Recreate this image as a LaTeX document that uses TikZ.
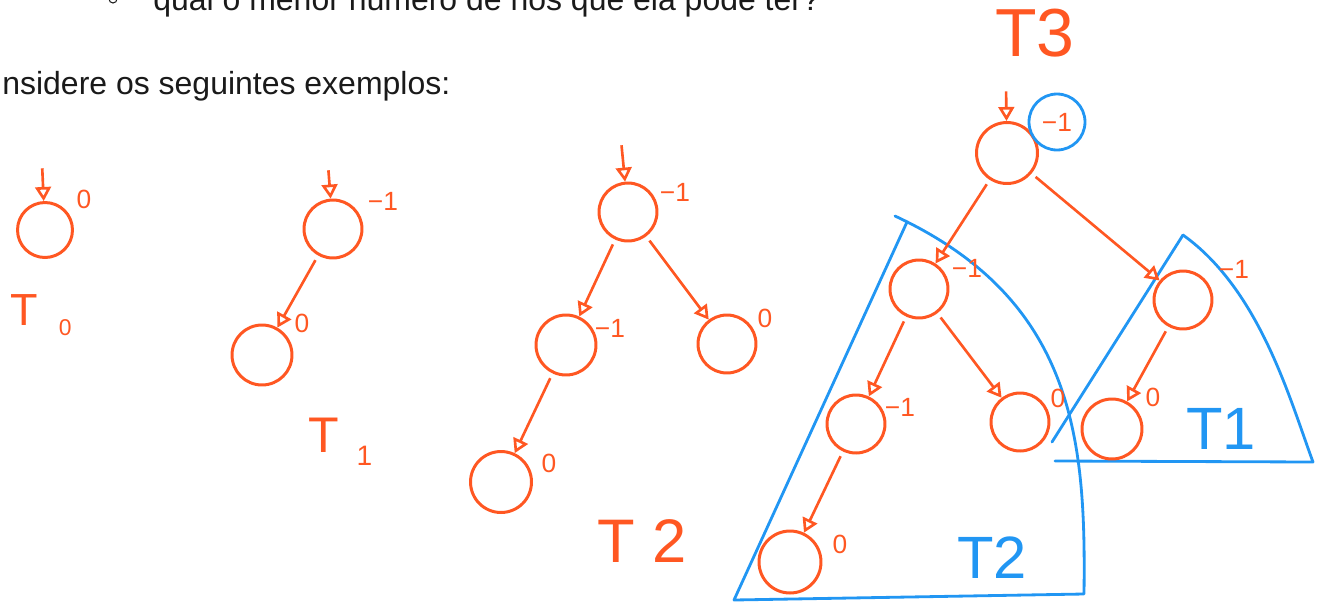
\documentclass[tikz,border=0pt]{standalone}
\usepackage{fontspec}
\setmainfont{Liberation Sans}
\usetikzlibrary{arrows.meta}
\definecolor{orng}{HTML}{FF5722}
\definecolor{blu}{HTML}{2196F3}
\definecolor{ink}{HTML}{1A1A1A}

\begin{document}
\begin{tikzpicture}[x=0.02cm, y=-0.02cm,
    nd/.style={circle, draw=orng, line width=1.7pt, minimum size=1.16cm, inner sep=0pt},
    edge/.style={-{Triangle[open, length=8pt, width=9pt]}, draw=orng, line width=1.5pt, shorten <=3pt},
    lbl/.style={text=orng, font=\fontsize{15}{15}\selectfont, inner sep=0pt},
    ttl/.style={text=orng, inner sep=0pt},
    hull/.style={draw=blu, line width=1.6pt, line join=round, line cap=round},
    txt/.style={text=ink, font=\fontsize{18.2}{22}\selectfont, inner sep=0pt, anchor=base west}]
  \clip (0,0) rectangle (1323,603);
  % text of the page behind the drawing
  \draw[ink, line width=0.6pt] (113,-1) circle (0.08cm);
  \node[txt] (q) at (153,10) {qual o menor número de nós que ela pode ter?};
  \node[txt] (ex) at (2,94) {nsidere os seguintes exemplos:};

  % T0
  \node[nd, minimum size=1.1cm] (t0r) at (45,230) {};
  \coordinate (t0in) at (42,163);
  \draw[edge] (t0in) -- (t0r);
  \node[lbl] (t0rb) at (84,199) {0};
  \node[ttl, anchor=base west, font=\fontsize{25.6}{26}\selectfont] (t0n) at (10,325)
    {T\kern12pt\raisebox{-5.7pt}{\fontsize{13}{13}\selectfont 0}};

  % T1
  \node[nd] (t1r) at (333,229) {};
  \node[nd, minimum size=1.2cm] (t1a) at (262,355) {};
  \coordinate (t1in) at (328,165);
  \draw[edge] (t1in) -- (t1r);
  \draw[edge] (t1r) -- (t1a);
  \node[lbl] (t1rb) at (383,201) {−1};
  \node[lbl] (t1ab) at (302,323) {0};
  \node[ttl, anchor=base west, font=\fontsize{28.5}{29}\selectfont] (t1n) at (308,452)
    {T\kern10pt\raisebox{-7.4pt}{\fontsize{16}{16}\selectfont 1}};

  % T2
  \node[nd] (t2r) at (628,212) {};
  \node[nd, minimum size=1.2cm] (t2a) at (566,345) {};
  \node[nd] (t2b) at (727,344) {};
  \node[nd, minimum size=1.22cm] (t2c) at (501,482) {};
  \coordinate (t2in) at (621,140);
  \draw[edge] (t2in) -- (t2r);
  \draw[edge] (t2r) -- (t2a);
  \draw[edge] (t2r) -- (t2b);
  \draw[edge] (t2a) -- (t2c);
  \node[lbl] (t2rb) at (675,192) {−1};
  \node[lbl] (t2ab) at (610,328) {−1};
  \node[lbl] (t2bb) at (765,318) {0};
  \node[lbl] (t2cb) at (549,463) {0};
  \node[ttl, font=\fontsize{35}{35}\selectfont] (t2n) at (642,541) {T 2};

  % T3, with its subtrees marked in blue
  \draw[hull] (907,222) -- (734,600) -- (1084,594) .. controls (1086,440) and (1075,300) .. (895,216);
  \draw[hull] (1183,235) -- (1052,442);
  \draw[hull] (1055,461) -- (1313,462) .. controls (1290,400) and (1260,290) .. (1183,235);
  \node[ttl, font=\fontsize{38.7}{39}\selectfont] (t3n) at (1035,33) {T3};
  \node[nd, minimum size=1.22cm] (t3r) at (1007,153) {};
  \node[nd] (t3a) at (919,289) {};
  \node[nd] (t3b) at (1183,300) {};
  \node[nd] (t3c) at (856,424) {};
  \node[nd] (t3d) at (1020,422) {};
  \node[nd, minimum size=1.2cm] (t3e) at (1112,429) {};
  \node[nd, minimum size=1.24cm] (t3f) at (790,562) {};
  \coordinate (t3in) at (1006,86);
  \draw[edge] (t3in) -- (t3r);
  \draw[edge] (t3r) -- (t3a);
  \draw[edge] (t3r) -- (t3b);
  \draw[edge] (t3a) -- (t3c);
  \draw[edge] (t3a) -- (t3d);
  \draw[edge] (t3b) -- (t3e);
  \draw[edge] (t3c) -- (t3f);
  \node[lbl, circle, draw=blu, line width=1.6pt, minimum size=1.12cm] (t3rb) at (1057,122) {−1};
  \node[lbl] (t3ab) at (967,268) {−1};
  \node[lbl] (t3bb) at (1234,269) {−1};
  \node[lbl] (t3cb) at (900,407) {−1};
  \node[lbl] (t3db) at (1058,398) {0};
  \node[lbl] (t3eb) at (1153,397) {0};
  \node[lbl] (t3fb) at (840,544) {0};
  \node[ttl, text=blu, font=\fontsize{34}{34}\selectfont] (h2n) at (992,558) {T2};
  \node[ttl, text=blu, font=\fontsize{34}{34}\selectfont] (h1n) at (1221,429) {T1};
\end{tikzpicture}
\end{document}
